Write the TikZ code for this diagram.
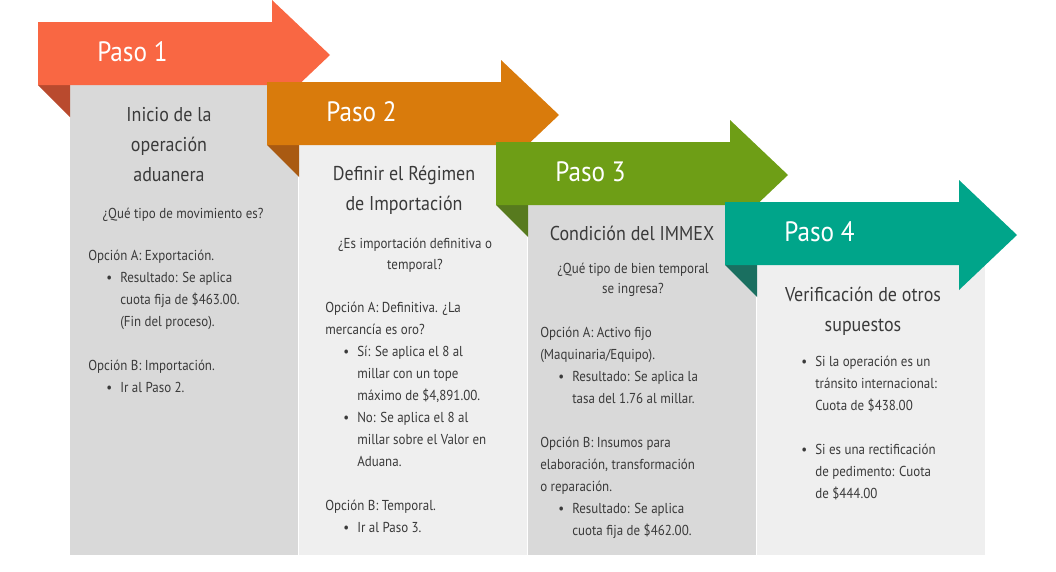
\documentclass[tikz,border=0pt]{standalone}
\usepackage{fontspec}
\setmainfont[FakeStretch=0.9]{PT Sans}
\definecolor{txt}{HTML}{3A3A3A}
\definecolor{panelA}{HTML}{D9D9D9}
\definecolor{panelB}{HTML}{EFEFEF}
\definecolor{arrA}{HTML}{F96743}\definecolor{foldA}{HTML}{B94A2E}
\definecolor{arrB}{HTML}{D97B0C}\definecolor{foldB}{HTML}{A95A12}
\definecolor{arrC}{HTML}{6E9E16}\definecolor{foldC}{HTML}{577A1E}
\definecolor{arrD}{HTML}{00A58A}\definecolor{foldD}{HTML}{1A6F60}
\newcommand{\itm}{\hspace*{13.5pt}\makebox[10.5pt][l]{\textbullet}}
\newcommand{\cnt}{\hspace*{24pt}}
\tikzset{
  paso/.style={anchor=west,text=white,font=\fontsize{21}{24}\selectfont,inner sep=0pt},
  title/.style={align=center,text=txt,font=\fontsize{15}{22.5}\selectfont,inner sep=0pt},
  quest/.style={align=center,text=txt,font=\fontsize{10.8}{15.5}\selectfont,inner sep=0pt},
  body/.style={anchor=north west,align=left,text=txt,font=\fontsize{10.8}{16.5}\selectfont,inner sep=0pt}
}
\begin{document}
\begin{tikzpicture}[x=0.75pt,y=-0.75pt]
\useasboundingbox (0,0) rectangle (1056,571);
%%
\foreach \i/\pc/\ac/\fc in {0/panelA/arrA/foldA,1/panelB/arrB/foldB,2/panelA/arrC/foldC,3/panelB/arrD/foldD}{
  % Panel, fold and arrow of step \i
  \fill[\pc] (70+229*\i,85+60*\i) rectangle (298+229*\i,555);
  \fill[\fc] (38+229*\i,85+60*\i) -- (70+229*\i,85+60*\i) -- (70+229*\i,117+60*\i) -- cycle;
  \fill[\ac] (38+229*\i,22+60*\i) -- (272+229*\i,22+60*\i) -- (272+229*\i,60*\i)
    -- (330+229*\i,55+60*\i) -- (272+229*\i,110+60*\i) -- (272+229*\i,85+60*\i)
    -- (38+229*\i,85+60*\i) -- cycle;
  \pgfmathtruncatemacro{\n}{\i+1}
  \node[paso] (paso\n) at (97+229*\i,52+60*\i) {Paso \n};
}
  % Node: step 1
\node[title] (t1) at (169,145) {Inicio de la\\operación\\aduanera};
\node[quest] (q1) at (183,215) {¿Qué tipo de movimiento es?};
\node[body] (b1) at (88,250) {Opción A: Exportación.\\
\itm Resultado: Se aplica\\ \cnt cuota fija de \$463.00.\\ \cnt (Fin del proceso).\\[16.5pt]
Opción B: Importación.\\ \itm Ir al Paso 2.};
  % Node: step 2
\node[title] (t2) at (404,190) {Definir el Régimen\\de Importación};
\node[quest] (q2) at (415,255) {¿Es importación definitiva o\\temporal?};
\node[body] (b2) at (325,302) {Opción A: Definitiva. ¿La\\mercancía es oro?\\
\itm Sí: Se aplica el 8 al\\ \cnt millar con un tope\\ \cnt máximo de \$4,891.00.\\
\itm No: Se aplica el 8 al\\ \cnt millar sobre el Valor en\\ \cnt Aduana.\\[16.5pt]
Opción B: Temporal.\\ \itm Ir al Paso 3.};
  % Node: step 3
\node[title] (t3) at (632,233) {Condición del IMMEX};
\node[quest] (q3) at (633,280) {¿Qué tipo de bien temporal\\se ingresa?};
\node[body] (b3) at (540,327) {Opción A: Activo fijo\\(Maquinaria/Equipo).\\
\itm Resultado: Se aplica la\\ \cnt tasa del 1.76 al millar.\\[16.5pt]
Opción B: Insumos para\\elaboración, transformación\\o reparación.\\
\itm Resultado: Se aplica\\ \cnt cuota fija de \$462.00.};
  % Node: step 4
\node[title] (t4) at (863,311) {Verificación de otros\\supuestos};
\node[body] (b4) at (783,356) {\itm Si la operación es un\\ \cnt tránsito internacional:\\ \cnt Cuota de \$438.00\\[16.5pt]
\itm Si es una rectificación\\ \cnt de pedimento: Cuota\\ \cnt de \$444.00};
%
\end{tikzpicture}
\end{document}
